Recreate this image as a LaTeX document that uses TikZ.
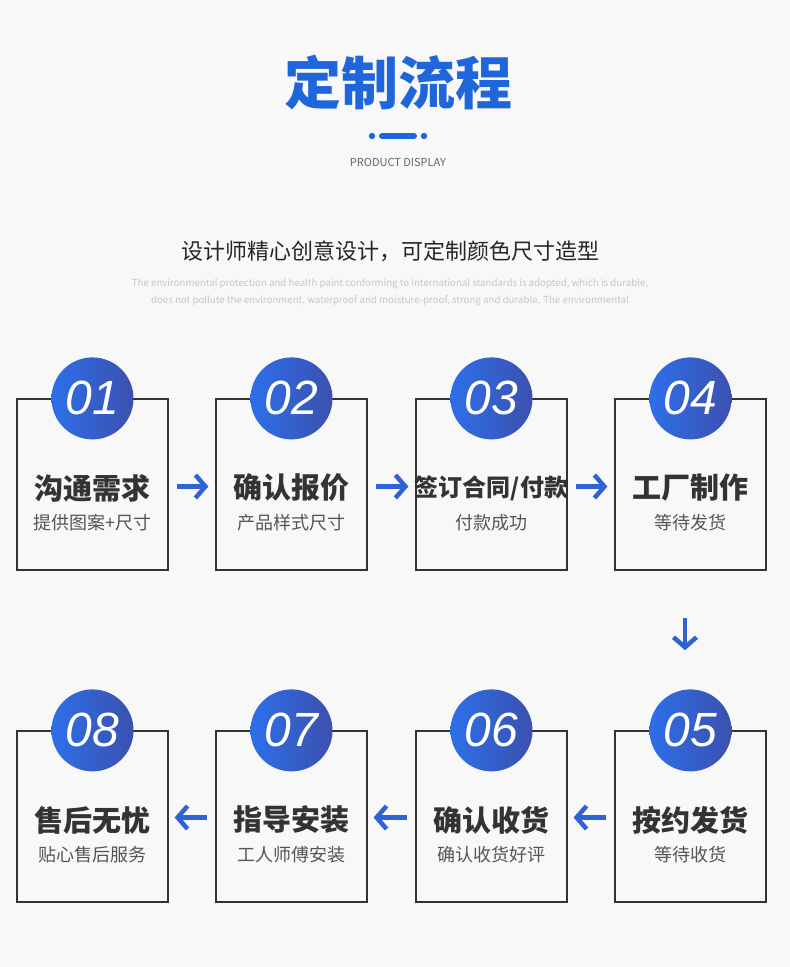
\documentclass[tikz,border=0pt]{standalone}
\usepackage{fontspec}
\setmainfont{Noto Sans CJK SC}
\newfontfamily\numfont{Liberation Sans}
\usetikzlibrary{arrows.meta, calc}
\definecolor{cbg}{HTML}{F8F8F8}
\definecolor{ctitle}{HTML}{1F66DB}
\definecolor{cleft}{HTML}{2D6FE9}
\definecolor{cright}{HTML}{3C50AE}
\definecolor{carrow}{HTML}{2F62D2}
\definecolor{cdark}{HTML}{333333}
\definecolor{cgrey}{HTML}{555555}
\definecolor{cpale}{HTML}{C6C6C6}
\tikzset{
  every picture/.style={x=1pt, y=-1pt},
  stepbox/.style={draw=cdark, line width=1.2pt, minimum width=151pt, minimum height=171pt, inner sep=0pt},
  num/.style={circle, minimum size=82pt, inner sep=0pt, left color=cleft, right color=cright, text=white,
    font=\numfont\itshape\fontsize{48}{48}\selectfont},
  head/.style={font=\bfseries\fontsize{29}{29}\selectfont, text=cdark, inner sep=0pt},
  sub/.style={font=\fontsize{18}{18}\selectfont, text=cgrey, inner sep=0pt},
  arrow/.style={-{Straight Barb[length=10pt, width=23pt]}, draw=carrow, line width=4.5pt},
  note/.style={font=\fontsize{9.7}{9.7}\selectfont, text=cpale, inner sep=0pt},
}
\begin{document}
\begin{tikzpicture}
  \fill[cbg] (0,0) rectangle (790,967);
  \useasboundingbox (0,0) rectangle (790,967);
  % header
  \node[font=\bfseries\fontsize{57}{57}\selectfont, text=ctitle, inner sep=0pt] (title) at (398,82) {定制流程};
  \fill[ctitle] (372,136) circle (3.2);
  \draw[ctitle, line width=6pt, line cap=round] (382,136) -- (414,136);
  \fill[ctitle] (424,136) circle (3.2);
  \node[font=\fontsize{11}{11}\selectfont, text=cgrey!90, inner sep=0pt] (eng) at (398,162) {PRODUCT DISPLAY};
  \node[font=\fontsize{22}{22}\selectfont, text=black!85, inner sep=0pt] (slogan) at (390,251) {设计师精心创意设计，可定制颜色尺寸造型};
  \node[note] (l1) at (390,284) {The environmental protection and health paint conforming to international standards is adopted, which is durable,};
  \node[note] (l2) at (390,301) {does not pollute the environment, waterproof and moisture-proof, strong and durable. The environmental};
  % row 1
  \node[stepbox] (s1) at (92.5,484.5) {};
  \node[stepbox] (s2) at (291.5,484.5) {};
  \node[stepbox] (s3) at (491.5,484.5) {};
  \node[stepbox] (s4) at (690.5,484.5) {};
  \node[num] (n1) at (s1.north) {01};
  \node[num] (n2) at (s2.north) {02};
  \node[num] (n3) at (s3.north) {03};
  \node[num] (n4) at (s4.north) {04};
  \node[head] (h1) at (92.5,488) {沟通需求};
  \node[head] (h2) at (291.5,488) {确认报价};
  \node[head, font=\bfseries\fontsize{24}{24}\selectfont] (h3) at (491.5,488) {签订合同/付款};
  \node[head] (h4) at (690.5,488) {工厂制作};
  \node[sub] (d1) at (92.5,523) {提供图案+尺寸};
  \node[sub] (d2) at (291.5,523) {产品样式尺寸};
  \node[sub] (d3) at (491.5,523) {付款成功};
  \node[sub] (d4) at (690.5,523) {等待发货};
  % row 2
  \node[stepbox] (s5) at (690.5,816.5) {};
  \node[stepbox] (s6) at (491.5,816.5) {};
  \node[stepbox] (s7) at (291.5,816.5) {};
  \node[stepbox] (s8) at (92.5,816.5) {};
  \node[num] (n5) at (s5.north) {05};
  \node[num] (n6) at (s6.north) {06};
  \node[num] (n7) at (s7.north) {07};
  \node[num] (n8) at (s8.north) {08};
  \node[head] (h5) at (690.5,820) {按约发货};
  \node[head] (h6) at (491.5,820) {确认收货};
  \node[head] (h7) at (291.5,820) {指导安装};
  \node[head] (h8) at (92.5,820) {售后无忧};
  \node[sub] (d5) at (690.5,855) {等待收货};
  \node[sub] (d6) at (491.5,855) {确认收货好评};
  \node[sub] (d7) at (291.5,855) {工人师傅安装};
  \node[sub] (d8) at (92.5,855) {贴心售后服务};
  % arrows
  \draw[arrow, shorten <=8pt, shorten >=7pt] ([yshift=-2pt]s1.east) -- ([yshift=-2pt]s2.west);
  \draw[arrow, shorten <=8pt, shorten >=7pt] ([yshift=-2pt]s2.east) -- ([yshift=-2pt]s3.west);
  \draw[arrow, shorten <=8pt, shorten >=7pt] ([yshift=-2pt]s3.east) -- ([yshift=-2pt]s4.west);
  \draw[arrow, shorten <=47pt, shorten >=39pt] ([xshift=-5.5pt]s4.south) -- ([xshift=-5.5pt]n5.north);
  \draw[arrow, shorten <=8pt, shorten >=6pt] ([yshift=-1pt]s5.west) -- ([yshift=-1pt]s6.east);
  \draw[arrow, shorten <=8pt, shorten >=6pt] ([yshift=-1pt]s6.west) -- ([yshift=-1pt]s7.east);
  \draw[arrow, shorten <=8pt, shorten >=6pt] ([yshift=-1pt]s7.west) -- ([yshift=-1pt]s8.east);
\end{tikzpicture}
\end{document}
